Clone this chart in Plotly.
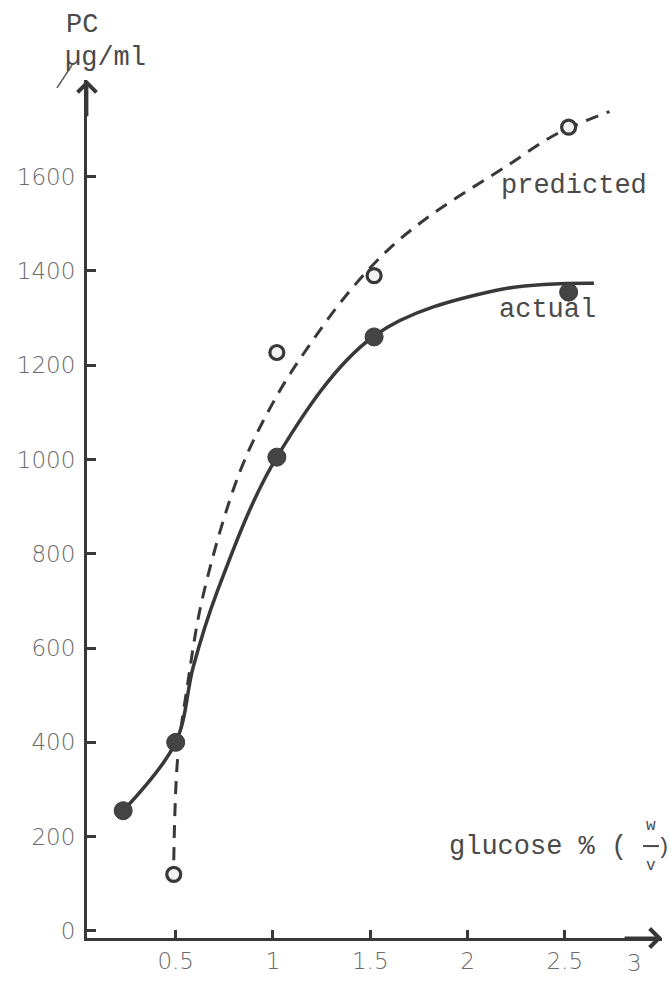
import plotly.graph_objects as go

# ---- data ----
actual_x = [0.23, 0.50, 1.02, 1.52, 2.52]
actual_y = [255, 400, 1005, 1260, 1355]

pred_x = [0.49, 1.02, 1.52, 2.52]
pred_y = [120, 1227, 1390, 1705]

# hand-drawn curves
actual_curve_x = [0.23, 0.50, 0.59, 0.71, 1.02, 1.52, 2.15, 2.65]
actual_curve_y = [255, 400, 560, 716, 1005, 1262, 1359, 1374]

pred_curve_x = [0.49, 0.51, 0.56, 0.64, 0.83, 1.02, 1.20, 1.40, 1.60,
                1.80, 2.00, 2.20, 2.40, 2.52, 2.73]
pred_curve_y = [150, 366, 520, 710, 974, 1135, 1250, 1360, 1448,
                1515, 1570, 1622, 1677, 1703, 1738]

x_tickvals = [0.5, 1, 1.5, 2, 2.5]
x_ticktext = ["0.5", "1", "1.5", "2", "2.5"]
y_tickvals = [0, 200, 400, 600, 800, 1000, 1200, 1400, 1600]
y_ticktext = [str(v) for v in y_tickvals]

X_RANGE = [0.044, 3.0]
Y_RANGE = [-15, 1805]

INK = "#383838"
LABEL = "#4a4a4a"
TICK_COLOR = "#6a6a6a"
TYPE_FONT = "Liberation Mono"
TICK_FONT = dict(family="DejaVu Sans", size=23, color=TICK_COLOR, weight=200)

fig = go.Figure()

fig.add_trace(go.Scatter(
    x=pred_curve_x, y=pred_curve_y, mode="lines",
    line=dict(color=INK, width=3, dash="13px,9px", shape="spline", smoothing=1.0),
    hoverinfo="skip", showlegend=False))

fig.add_trace(go.Scatter(
    x=actual_curve_x, y=actual_curve_y, mode="lines",
    line=dict(color=INK, width=3.5, shape="spline", smoothing=1.0),
    hoverinfo="skip", showlegend=False))

fig.add_trace(go.Scatter(
    x=actual_x, y=actual_y, mode="markers", name="actual",
    marker=dict(symbol="circle", size=18, color="#444444",
                line=dict(color="#3a3a3a", width=1)),
    showlegend=False))

fig.add_trace(go.Scatter(
    x=pred_x, y=pred_y, mode="markers", name="predicted",
    marker=dict(symbol="circle", size=14, color="#f2f2f2",
                line=dict(color=INK, width=3.2)),
    showlegend=False))

annotations = [
    # series labels
    dict(x=2.16, y=1581, text="predicted", xanchor="left", yanchor="middle",
         showarrow=False, font=dict(family=TYPE_FONT, size=27, color=LABEL)),
    dict(x=2.15, y=1317, text="actual", xanchor="left", yanchor="middle",
         showarrow=False, font=dict(family=TYPE_FONT, size=27, color=LABEL)),
    # x axis title
    dict(x=1.895, y=178, text="glucose % (", xanchor="left", yanchor="middle",
         showarrow=False, font=dict(family=TYPE_FONT, size=27, color=LABEL)),
    dict(xref="paper", x=(651 - 87) / 575, y=222, text="w", xanchor="center",
         yanchor="middle", showarrow=False,
         font=dict(family=TYPE_FONT, size=16, color=LABEL)),
    dict(xref="paper", x=(651 - 87) / 575, y=138, text="v", xanchor="center",
         yanchor="middle", showarrow=False,
         font=dict(family=TYPE_FONT, size=16, color=LABEL)),
    dict(xref="paper", x=(663 - 87) / 575, y=178, text=")", xanchor="center",
         yanchor="middle", showarrow=False, borderpad=0,
         font=dict(family=TYPE_FONT, size=22, color=LABEL)),
    # y axis title
    dict(xref="paper", yref="paper", x=0.0, y=1.0, text="PC",
         xanchor="center", yanchor="bottom", xshift=-5, yshift=38,
         showarrow=False, font=dict(family=TYPE_FONT, size=27, color=LABEL)),
    dict(xref="paper", yref="paper", x=0.0, y=1.0, text="\u00b5g/ml",
         xanchor="left", yanchor="bottom", xshift=-24, yshift=5,
         showarrow=False, font=dict(family=TYPE_FONT, size=27, color=LABEL)),
    # "3" label near the arrow tip
    dict(x=3.0, y=Y_RANGE[0], text="3", xanchor="center", yanchor="top",
         xshift=-28, yshift=-10, showarrow=False, font=TICK_FONT),
    # axis arrowheads
    dict(x=X_RANGE[0], y=Y_RANGE[1], ax=X_RANGE[0], ay=Y_RANGE[1] - 80,
         xref="x", yref="y", axref="x", ayref="y", text="",
         showarrow=True, arrowhead=4, arrowsize=1.3, arrowwidth=2.8,
         arrowcolor=INK, standoff=0),
    dict(x=X_RANGE[1], y=Y_RANGE[0], ax=X_RANGE[1] - 0.2, ay=Y_RANGE[0],
         xref="x", yref="y", axref="x", ayref="y", text="",
         showarrow=True, arrowhead=4, arrowsize=1.3, arrowwidth=2.8,
         arrowcolor=INK, standoff=0),
]

shapes = [
    # fraction bar of w/v
    dict(type="line", xref="paper", yref="y",
         x0=(643 - 87) / 575, x1=(659 - 87) / 575,
         y0=180, y1=180, line=dict(color=LABEL, width=2)),
    # stray pen stroke next to the unit label
    dict(type="line", xref="paper", yref="paper",
         x0=(57 - 87) / 575, y0=1 - 8 / 869, x1=(72 - 87) / 575, y1=1 + 15 / 869,
         line=dict(color="#555555", width=1.5)),
]

fig.update_layout(
    width=669, height=981,
    margin=dict(l=87, r=7, t=80, b=32),
    paper_bgcolor="white", plot_bgcolor="white",
    showlegend=False,
    annotations=annotations,
    shapes=shapes,
    xaxis=dict(range=X_RANGE, showgrid=False, zeroline=False,
               showline=True, linecolor=INK, linewidth=3,
               tickvals=x_tickvals, ticktext=x_ticktext,
               ticks="inside", ticklen=8, tickwidth=2.5, tickcolor=INK,
               tickfont=TICK_FONT),
    yaxis=dict(range=Y_RANGE, showgrid=False, zeroline=False,
               showline=True, linecolor=INK, linewidth=3,
               tickvals=y_tickvals, ticktext=y_ticktext,
               ticks="inside", ticklen=9, tickwidth=2.5, tickcolor=INK,
               tickfont=TICK_FONT, ticklabelstandoff=4),
)

fig.write_html("out.html")
